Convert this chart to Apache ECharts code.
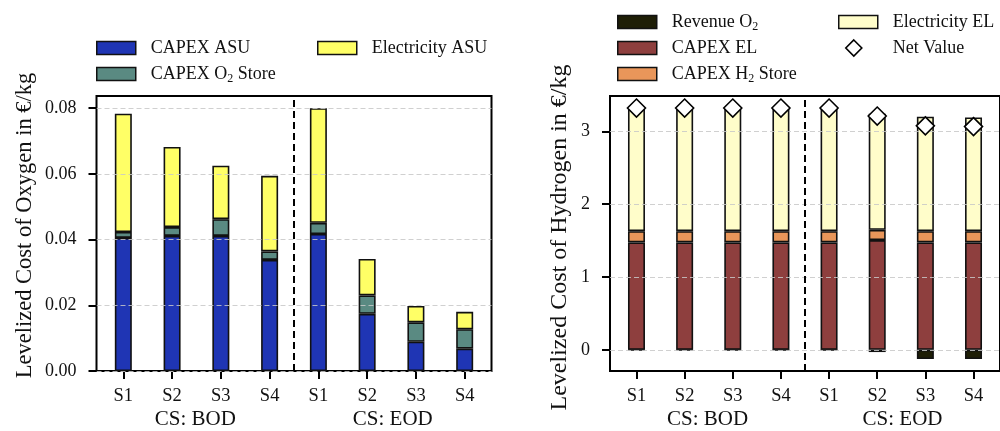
<!DOCTYPE html>
<html>
<head>
<meta charset="utf-8">
<script src="https://cdn.jsdelivr.net/npm/echarts@6/dist/echarts.min.js"></script>
<style>
  html, body { margin: 0; padding: 0; background: #fff; }
  #chart { width: 1000px; height: 431px; }
</style>
</head>
<body>
<div id="chart"></div>
<script>
// Scenario labels along each x axis and the two case-study groups below them
const categories = ['S1', 'S2', 'S3', 'S4', 'S1', 'S2', 'S3', 'S4'];
const groups = ['CS: BOD', 'CS: EOD'];

// Levelized cost of oxygen components (EUR/kg)
const capexAsu       = [0.0405, 0.0411, 0.0411, 0.0338, 0.0417, 0.0174, 0.0089, 0.0068];
const capexO2Store   = [0.0018, 0.0027, 0.0051, 0.0026, 0.0034, 0.0056, 0.0059, 0.0059];
const electricityAsu = [0.0360, 0.0244, 0.0163, 0.0230, 0.0349, 0.0111, 0.0050, 0.0053];

// Levelized cost of hydrogen components (EUR/kg)
const revenueO2      = [-0.005, -0.005, -0.005, -0.005, -0.005, -0.030, -0.125, -0.125];
const capexEl        = [1.475, 1.475, 1.475, 1.475, 1.475, 1.507, 1.475, 1.475];
const capexH2Store   = [0.155, 0.155, 0.155, 0.155, 0.155, 0.141, 0.155, 0.155];
const electricityEl  = [1.695, 1.695, 1.695, 1.695, 1.695, 1.592, 1.570, 1.560];
const netValue       = [3.320, 3.320, 3.320, 3.320, 3.320, 3.210, 3.075, 3.065];

// Tick values
const xTicks = [0, 1, 2, 3, 4, 5, 6, 7];
const yTicksO2 = [0, 0.02, 0.04, 0.06, 0.08];
const yTicksH2 = [0, 1, 2, 3];

const FONT = 'Liberation Serif';
const INK = '#111';
const EDGE = '#111';

// [value, position] rows; the value column comes first so stacking sums it
const rows = arr => arr.map((v, i) => [v, i]);

// legend label with subscript digits in chemical formulas
const fmtName = name => {
  const m = name.match(/^(.*[OH])2(.*)$/);
  return m ? `{n|${m[1]}}{sub|2}{n|${m[2]}}` : `{n|${name}}`;
};
const legendText = {
  fontFamily: FONT, fontSize: 18, color: INK, lineHeight: 26, padding: [0, 0, 0, 10],
  rich: {
    n: { fontFamily: FONT, fontSize: 18, color: INK, lineHeight: 26 },
    sub: { fontFamily: FONT, fontSize: 12, color: INK, lineHeight: 16, padding: [10, 0, 0, 0] }
  }
};
function legendBox(names, left, top) {
  return {
    data: names, left: left, top: top, orient: 'vertical', icon: 'rect', padding: 0,
    itemWidth: 39, itemHeight: 13, itemGap: 0, selectedMode: false,
    itemStyle: { borderColor: EDGE, borderWidth: 1.5 },
    formatter: fmtName, textStyle: legendText
  };
}

function xValueAxis(gridIndex) {
  return {
    type: 'value', gridIndex: gridIndex, min: -0.55, max: 7.55, position: 'bottom',
    axisLine: { show: false, onZero: false },
    axisTick: { show: true, customValues: xTicks, length: 8, lineStyle: { color: '#000', width: 2 } },
    axisLabel: {
      customValues: xTicks, formatter: v => categories[Math.round(v)],
      fontFamily: FONT, fontSize: 18.5, color: INK, margin: 16
    },
    splitLine: { show: false }
  };
}
function xGroupAxis(gridIndex) {
  return {
    type: 'category', gridIndex: gridIndex, data: groups, position: 'bottom', offset: 22,
    axisLine: { show: false, onZero: false }, axisTick: { show: false }, splitLine: { show: false },
    axisLabel: { fontFamily: FONT, fontSize: 21, color: INK, margin: 16 }
  };
}
const gridLine = { show: true, lineStyle: { color: 'rgba(200,200,200,0.85)', type: [5, 3], width: 1 } };

function barSeries(name, data, color, xi, yi, stack) {
  return {
    type: 'bar', name: name, data: rows(data), encode: { x: 1, y: 0 },
    xAxisIndex: xi, yAxisIndex: yi, stack: stack, barWidth: 17,
    itemStyle: { color: color, borderColor: EDGE, borderWidth: 1.6 }
  };
}
const separator = {
  silent: true, symbol: ['none', 'none'], label: { show: false },
  lineStyle: { color: '#000', type: [7, 4], width: 2 },
  data: [{ xAxis: 3.5 }]
};

const sO2 = [
  barSeries('CAPEX ASU', capexAsu, '#1f35b4', 0, 0, 'o2'),
  barSeries('CAPEX O2 Store', capexO2Store, '#5a8a82', 0, 0, 'o2'),
  barSeries('Electricity ASU', electricityAsu, '#ffff66', 0, 0, 'o2')
];
sO2[0].markLine = separator;

const sH2 = [
  barSeries('Revenue O2', revenueO2, '#1e1e06', 2, 1, 'h2'),
  barSeries('CAPEX EL', capexEl, '#8e3f3e', 2, 1, 'h2'),
  barSeries('CAPEX H2 Store', capexH2Store, '#e9965a', 2, 1, 'h2'),
  barSeries('Electricity EL', electricityEl, '#fffdca', 2, 1, 'h2'),
  {
    type: 'scatter', name: 'Net Value', data: rows(netValue), encode: { x: 1, y: 0 },
    xAxisIndex: 2, yAxisIndex: 1,
    symbol: 'diamond', symbolSize: 18, z: 5,
    itemStyle: { color: '#fff', borderColor: '#000', borderWidth: 1.6, opacity: 1 }
  }
];
sH2[0].markLine = separator;

const option = {
  animation: false,
  backgroundColor: '#fff',
  grid: [
    { left: 96.5, right: 508.5, top: 96, bottom: 60, show: true, borderColor: '#000', borderWidth: 2 },
    { left: 610, right: -4.5, top: 96, bottom: 60, show: true, borderColor: '#000', borderWidth: 2 }
  ],
  legend: [
    legendBox(['CAPEX ASU', 'CAPEX O2 Store'], 96, 35),
    legendBox(['Electricity ASU'], 317, 35),
    legendBox(['Revenue O2', 'CAPEX EL', 'CAPEX H2 Store'], 617, 9),
    legendBox(['Electricity EL'], 838, 9),
    {
      data: [{ name: 'Net Value', icon: 'diamond' }], left: 845, top: 35, orient: 'vertical',
      padding: 0, itemWidth: 16, itemHeight: 16, selectedMode: false,
      itemStyle: { color: '#fff', borderColor: '#000', borderWidth: 1.6 },
      formatter: fmtName,
      textStyle: Object.assign({}, legendText, { padding: [0, 0, 0, 26] })
    }
  ],
  xAxis: [xValueAxis(0), xGroupAxis(0), xValueAxis(1), xGroupAxis(1)],
  yAxis: [
    {
      type: 'value', gridIndex: 0, min: 0, max: 0.0837, interval: 0.02, z: 3,
      name: 'Levelized Cost of Oxygen in €/kg', nameLocation: 'middle', nameGap: 60,
      nameTextStyle: { fontFamily: FONT, fontSize: 22.5, color: INK, padding: [0, 0, 0, 16] },
      axisLine: { show: false, onZero: false },
      axisTick: { show: true, customValues: yTicksO2, length: 8, lineStyle: { color: '#000', width: 2 } },
      axisLabel: {
        customValues: yTicksO2, formatter: v => v.toFixed(2),
        fontFamily: FONT, fontSize: 18, color: INK, margin: 20
      },
      splitLine: gridLine
    },
    {
      type: 'value', gridIndex: 1, min: -0.29, max: 3.485, splitNumber: 4,
      minInterval: 1, maxInterval: 1, z: 3,
      name: 'Levelized Cost of Hydrogen in €/kg', nameLocation: 'middle', nameGap: 38,
      nameTextStyle: { fontFamily: FONT, fontSize: 24, color: INK, padding: [0, 8, 0, 0] },
      axisLine: { show: false, onZero: false },
      axisTick: { show: true, customValues: yTicksH2, length: 8, lineStyle: { color: '#000', width: 2 } },
      axisLabel: {
        customValues: yTicksH2, formatter: v => String(v),
        fontFamily: FONT, fontSize: 18, color: INK, margin: 20
      },
      splitLine: gridLine
    }
  ],
  series: sO2.concat(sH2)
};

const chart = echarts.init(document.getElementById('chart'), null, { renderer: 'canvas' });
chart.setOption(option);
</script>
</body>
</html>
